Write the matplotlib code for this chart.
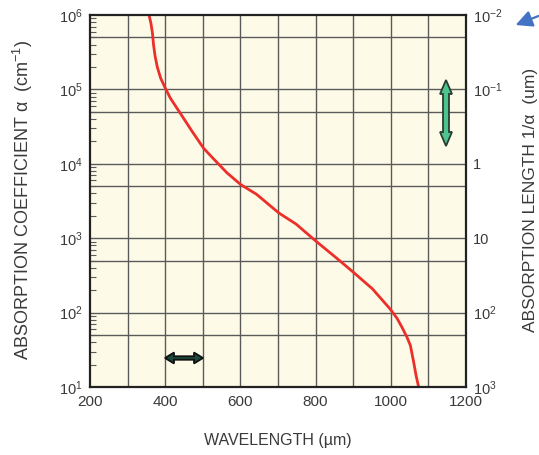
import matplotlib.pyplot as plt
import matplotlib.ticker as mticker
from matplotlib.patches import Polygon
import numpy as np

plt.rcParams['font.family'] = ['Liberation Sans', 'DejaVu Sans']
plt.rcParams['mathtext.fontset'] = 'custom'
plt.rcParams['mathtext.rm'] = 'Liberation Sans'

# silicon absorption curve
wavelength = [357, 362, 366, 369, 373, 379, 388, 400, 414, 440, 471, 502, 528, 564, 601,
              643, 702, 748, 801, 854, 901, 951, 998, 1017, 1030, 1043, 1052, 1061,
              1067, 1074]
log_alpha = [6.0, 5.89, 5.76, 5.6, 5.45, 5.3, 5.15, 5.02, 4.88, 4.68, 4.44, 4.21, 4.07,
             3.88, 3.72, 3.59, 3.34, 3.19, 2.96, 2.74, 2.54, 2.32, 2.05, 1.92, 1.80,
             1.67, 1.56, 1.33, 1.16, 1.0]

x_ticks = [200, 400, 600, 800, 1000, 1200]
left_ticks = [1e1, 1e2, 1e3, 1e4, 1e5, 1e6]
left_labels = [r'$\mathregular{10^{1}}$', r'$\mathregular{10^{2}}$', r'$\mathregular{10^{3}}$',
               r'$\mathregular{10^{4}}$', r'$\mathregular{10^{5}}$', r'$\mathregular{10^{6}}$']
right_ticks = [1e3, 1e2, 1e1, 1, 1e-1, 1e-2]
right_labels = [r'$\mathregular{10^{3}}$', r'$\mathregular{10^{2}}$', '10', '1',
                r'$\mathregular{10^{-1}}$', r'$\mathregular{10^{-2}}$']

W, H = 539, 455
fig = plt.figure(figsize=(W / 100, H / 100), dpi=100)
L, R, T, B = 90, 466, 15, 387
ax = fig.add_axes([L / W, 1 - B / H, (R - L) / W, (B - T) / H])

facecolor = '#fdfbe7'
gridcolor = '#5a5a5a'
textcolor = '#3a3a3a'

ax.set_facecolor(facecolor)
ax.set_yscale('log')
ax.set_xlim(200, 1200)
ax.set_ylim(1e1, 1e6)

# grid: every 100 nm, decades and the 5x lines
for xv in range(300, 1200, 100):
    ax.axvline(xv, color=gridcolor, lw=1.0, zorder=1)
for k in range(1, 6):
    ax.axhline(10.0 ** k, color=gridcolor, lw=1.0, zorder=1)
    ax.axhline(5 * 10.0 ** k, color=gridcolor, lw=1.0, zorder=1)

ax.plot(wavelength, 10.0 ** np.array(log_alpha), color='#ec2f2a', lw=2.0, zorder=3,
        solid_joinstyle='round')

ax.set_xticks(x_ticks)
ax.set_xticklabels([str(v) for v in x_ticks])
ax.set_yticks(left_ticks)
ax.set_yticklabels(left_labels)
ax.yaxis.set_minor_locator(mticker.LogLocator(base=10, subs=np.arange(2, 10)))
ax.yaxis.set_minor_formatter(mticker.NullFormatter())
ax.tick_params(axis='x', length=0, pad=6, labelsize=11, colors=textcolor)
ax.tick_params(axis='y', which='major', length=0, pad=5, labelsize=10.5, colors=textcolor)
ax.tick_params(axis='y', which='minor', direction='in', length=4, width=0.8, color=gridcolor)
for sp in ax.spines.values():
    sp.set_linewidth(1.6)
    sp.set_color('#222222')
    sp.set_zorder(5)

ax2 = ax.twinx()
ax2.set_yscale('log')
ax2.set_ylim(1e4 / 1e1, 1e4 / 1e6)
ax2.set_yticks(right_ticks)
ax2.set_yticklabels(right_labels)
ax2.yaxis.set_minor_locator(mticker.NullLocator())
ax2.tick_params(axis='y', length=0, pad=5, labelsize=10.5, colors=textcolor)
for sp in ax2.spines.values():
    sp.set_visible(False)

fig.text(278 / W, 1 - 440 / H, 'WAVELENGTH (µm)', ha='center', va='center',
         fontsize=11.5, color=textcolor)
fig.text(23 / W, 1 - 200 / H, r'ABSORPTION COEFFICIENT α  (cm$^{\mathregular{-1}}$)',
         rotation=90, ha='center', va='center', fontsize=13, color=textcolor)
fig.text(530 / W, 1 - 200 / H, 'ABSORPTION LENGTH 1/α  (um)',
         rotation=90, ha='center', va='center', fontsize=12.5, color=textcolor)

# overlay in pixel units for the decorative arrows
ov = fig.add_axes([0, 0, 1, 1], facecolor='none')
ov.set_xlim(0, W)
ov.set_ylim(H, 0)
ov.axis('off')


def double_arrow(a, p0, p1, body, head_w, head_l, fc, ec):
    p0, p1 = np.array(p0, float), np.array(p1, float)
    d = (p1 - p0) / np.linalg.norm(p1 - p0)
    n = np.array([-d[1], d[0]])
    b0, b1 = p0 + d * head_l, p1 - d * head_l
    pts = [p0, b0 + n * head_w / 2, b0 + n * body / 2, b1 + n * body / 2,
           b1 + n * head_w / 2, p1, b1 - n * head_w / 2, b1 - n * body / 2,
           b0 - n * body / 2, b0 - n * head_w / 2]
    a.add_patch(Polygon(pts, closed=True, facecolor=fc, edgecolor=ec, lw=1.3, zorder=6))


double_arrow(ov, (165, 358), (203, 358), 3.5, 11, 9, '#1c4a3a', '#111111')
double_arrow(ov, (446, 80), (446, 146), 6, 12, 14, '#4dc48e', '#2b3d33')

ov.annotate('', xy=(513, 26), xytext=(541, 15),
            arrowprops=dict(arrowstyle='-|>,head_length=1.0,head_width=0.5',
                            color='#4472c4', lw=1.6))

fig.savefig('out.png', dpi=100)
